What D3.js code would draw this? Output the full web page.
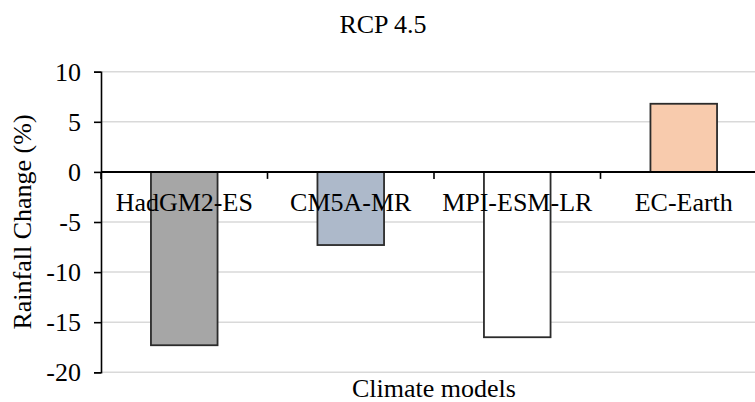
<!DOCTYPE html>
<html>
<head>
<meta charset="utf-8">
<script src="https://cdn.jsdelivr.net/npm/d3@7"></script>
<style>
  html, body { margin: 0; padding: 0; background: #fff; }
  svg { display: block; }
  svg text { font-family: "Liberation Serif", "DejaVu Serif", serif; }
</style>
</head>
<body>
<svg id="chart" width="755" height="402"></svg>
<script>
// Projected rainfall change per climate model, RCP 4.5
const models = ["HadGM2-ES", "CM5A-MR", "MPI-ESM-LR", "EC-Earth"];
const rainfallChange = [-17.3, -7.3, -16.5, 6.8];
const barColors = ["#a6a6a6", "#adb9ca", "#ffffff", "#f8cbad"];
const yTicks = [10, 5, 0, -5, -10, -15, -20];
const chartTitle = "RCP 4.5";
const xTitle = "Climate models";
const yTitle = "Rainfall Change (%)";

const svg = d3.select("#chart");
const plot = { left: 101, right: 767, top: 71.7, bottom: 372.3 };

const x = d3.scaleBand()
  .domain(models)
  .range([plot.left, plot.right])
  .paddingInner(0.6)
  .paddingOuter(0.3);

const y = d3.scaleLinear()
  .domain([-20, 10])
  .range([plot.bottom, plot.top]);

// horizontal gridlines
svg.append("g")
  .selectAll("line")
  .data(yTicks.filter(t => t !== 0))
  .join("line")
  .attr("x1", plot.left).attr("x2", plot.right)
  .attr("y1", d => y(d)).attr("y2", d => y(d))
  .attr("stroke", "#d9d9d9")
  .attr("stroke-width", 1.5);

// bars
svg.append("g")
  .selectAll("rect")
  .data(models.map((m, i) => ({ m, v: rainfallChange[i], c: barColors[i] })))
  .join("rect")
  .attr("x", d => x(d.m))
  .attr("width", x.bandwidth())
  .attr("y", d => y(Math.max(0, d.v)))
  .attr("height", d => Math.abs(y(d.v) - y(0)))
  .attr("fill", d => d.c)
  .attr("stroke", "#2b2b2b")
  .attr("stroke-width", 1.8);

// y axis
const yAxis = svg.append("g")
  .attr("transform", `translate(${plot.left},0)`)
  .call(d3.axisLeft(y).tickValues(yTicks).tickSize(7).tickPadding(13).tickFormat(d3.format("d")));
yAxis.attr("font-family", null).attr("font-size", null);
yAxis.select(".domain").attr("stroke", "#000").attr("stroke-width", 1.6);
yAxis.selectAll(".tick line").attr("stroke", "#000").attr("stroke-width", 1.6);
yAxis.selectAll(".tick text")
  .attr("fill", "#000")
  .style("font-size", "26px")
  .text(d => d < 0 ? "-" + Math.abs(d) : d);

// zero line with category boundary ticks
const step = x.step();
const boundaries = d3.range(models.length + 1).map(i => plot.left + i * step);
svg.append("line")
  .attr("x1", plot.left).attr("x2", plot.right)
  .attr("y1", y(0)).attr("y2", y(0))
  .attr("stroke", "#000").attr("stroke-width", 2);
svg.append("g")
  .selectAll("line")
  .data(boundaries)
  .join("line")
  .attr("x1", d => d).attr("x2", d => d)
  .attr("y1", y(0)).attr("y2", y(0) + 7)
  .attr("stroke", "#000").attr("stroke-width", 1.6);

// category labels just under the zero line
svg.append("g")
  .selectAll("text")
  .data(models)
  .join("text")
  .attr("x", d => x(d) + x.bandwidth() / 2)
  .attr("y", y(0) + 39)
  .attr("text-anchor", "middle")
  .attr("font-size", 26)
  .attr("fill", "#000")
  .text(d => d);

// titles
svg.append("text")
  .attr("x", 383).attr("y", 32.5)
  .attr("text-anchor", "middle")
  .attr("font-size", 26)
  .attr("fill", "#000")
  .text(chartTitle);

svg.append("text")
  .attr("x", (plot.left + plot.right) / 2).attr("y", 397)
  .attr("text-anchor", "middle")
  .attr("font-size", 26)
  .attr("fill", "#000")
  .text(xTitle);

svg.append("text")
  .attr("transform", `translate(31,${(plot.top + plot.bottom) / 2}) rotate(-90)`)
  .attr("text-anchor", "middle")
  .attr("font-size", 26)
  .attr("fill", "#000")
  .text(yTitle);
</script>
</body>
</html>
